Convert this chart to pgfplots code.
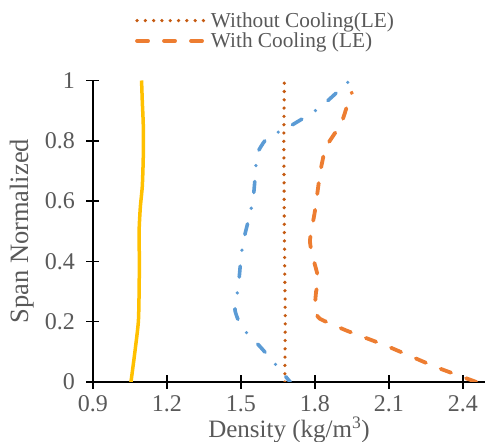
\documentclass[border=0pt]{standalone}
\usepackage{fontspec}
\setmainfont{Liberation Serif}
\usepackage{pgfplots}
\pgfplotsset{compat=1.18}
\definecolor{txtgray}{HTML}{595959}
\definecolor{cyellow}{HTML}{FFC000}
\definecolor{cblue}{HTML}{5B9BD5}
\definecolor{cdot}{HTML}{C55A11}
\definecolor{cdash}{HTML}{ED7D31}
\begin{document}
\begin{tikzpicture}
\begin{axis}[
  at={(0,0)}, anchor=south west,
  scale only axis,
  width=392bp, height=301.5bp,
  xmin=0.9, xmax=2.49, ymin=0, ymax=1,
  axis x line=bottom, axis y line=left,
  axis line style={-, black, line width=1.5bp},
  xtick={0.9,1.2,1.5,1.8,2.1,2.4},
  xticklabels={0.9,1.2,1.5,1.8,2.1,2.4},
  ytick={0,0.2,0.4,0.6,0.8,1},
  yticklabels={0,0.2,0.4,0.6,0.8,1},
  tick align=center,
  major tick length=13bp,
  tick style={black, line width=1.5bp},
  /pgf/number format/assume math mode=true,
  tick label style={font=\fontsize{24bp}{27bp}\selectfont, text=txtgray},
  xticklabel style={yshift=-4bp},
  yticklabel style={xshift=-8bp},
  xlabel={Density (kg/m\textsuperscript{3})},
  ylabel={Span Normalized},
  xlabel style={font=\fontsize{25bp}{28bp}\selectfont, text=txtgray, at={(axis description cs:0.5,-0.158)}, anchor=center},
  ylabel style={font=\fontsize{26.5bp}{30bp}\selectfont, text=txtgray, at={(axis description cs:-0.182,0.5)}, anchor=center},
  legend style={draw=none, fill=none, inner sep=0pt, at={(axis description cs:0.107,1.233)}, anchor=north west,
    font=\fontsize{21.3bp}{24bp}\selectfont, text=txtgray, row sep=0bp,
    /tikz/every even column/.append style={column sep=0bp}},
  legend cell align=left,
  legend image code/.code={\draw[#1] (0bp,0bp) -- (70bp,0bp);},
]
\addplot[cdot, line width=3.6bp, line cap=round, dash pattern=on 0bp off 8.3bp] coordinates {
(1.678,0) (1.68,0.2) (1.676,0.5) (1.674,0.8) (1.676,1.0)
};
\addlegendentry{Without Cooling(LE)}
\addplot[cdash, line width=3.8bp, line cap=round, dash pattern=on 11bp off 16bp, smooth, tension=0.3] coordinates {
(2.455,0) (2.29,0.05) (2.09,0.12) (1.93,0.17) (1.82,0.21) (1.80,0.24) (1.805,0.30) (1.815,0.34) (1.79,0.42) (1.78,0.47) (1.80,0.566) (1.815,0.657) (1.82,0.69) (1.835,0.75) (1.845,0.78) (1.885,0.83) (1.91,0.864) (1.93,0.914) (1.95,0.96)
};
\addlegendentry{With Cooling (LE)}
\addplot[cyellow, line width=3.5bp, smooth, tension=0.4, forget plot] coordinates {
(1.054,0) (1.07,0.1) (1.084,0.2) (1.087,0.3) (1.088,0.4) (1.087,0.5) (1.092,0.58) (1.100,0.65) (1.104,0.75) (1.104,0.85) (1.100,0.93) (1.097,1.0)
};
\addplot[cblue, line width=3.6bp, line cap=round, dash pattern=on 11bp off 16bp on 0bp off 16bp, dash phase=4bp, smooth, tension=0.3, forget plot] coordinates {
(1.70,0) (1.624,0.074) (1.577,0.118) (1.503,0.182) (1.476,0.239) (1.49,0.32) (1.50,0.41) (1.51,0.468) (1.536,0.555) (1.55,0.61) (1.559,0.693) (1.565,0.756) (1.597,0.80) (1.638,0.823) (1.696,0.847) (1.793,0.895) (1.844,0.927) (1.935,0.995)
};
\end{axis}
\pgfresetboundingbox
\useasboundingbox (-93bp,-60bp) rectangle (392bp,382bp);
\end{tikzpicture}
\end{document}
